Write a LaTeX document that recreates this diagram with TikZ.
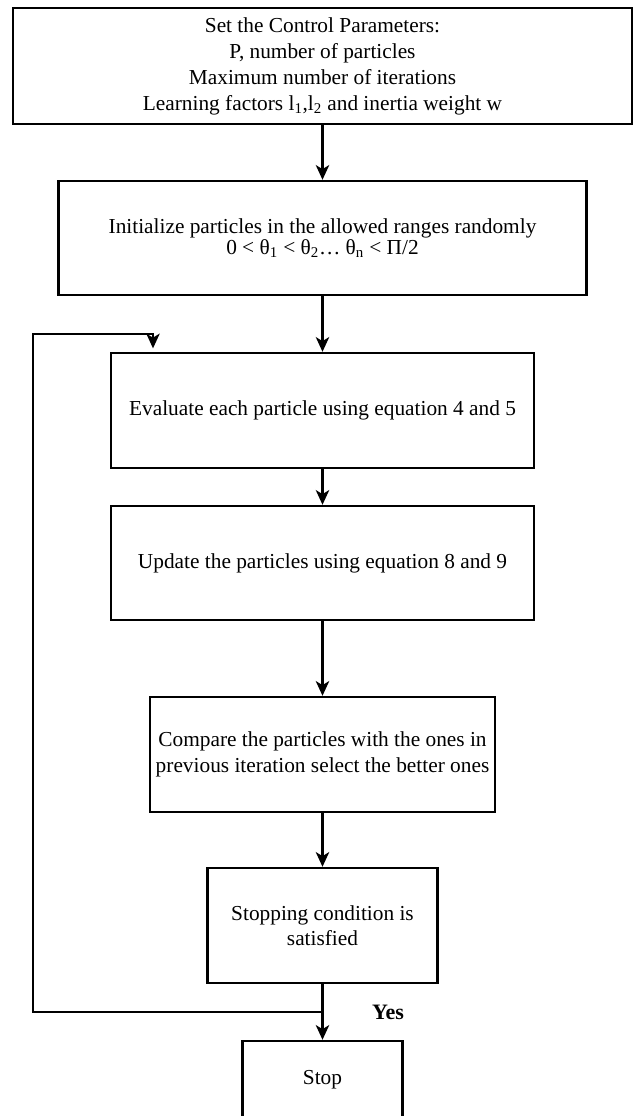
\documentclass[tikz,border=0pt]{standalone}
\usepackage{fontspec}
\setmainfont{Liberation Serif}
\usetikzlibrary{arrows.meta}

\begin{document}
\begin{tikzpicture}[>={Stealth[length=11pt,width=10pt,inset=3pt]}, x={(0.75pt,0pt)}, y={(0pt,-0.75pt)}, line width=1.8pt,
  box/.style={draw, align=center, inner sep=2pt, font=\fontsize{16}{19}\selectfont}]
\useasboundingbox (0,0) rectangle (633,1116);
\node[box, minimum width=464.25pt, minimum height=87pt, font=\fontsize{16}{19.5}\selectfont] (param) at (322.5,66) {Set the Control Parameters:\\ P, number of particles\\ Maximum number of iterations\\ Learning factors l\textsubscript{1},l\textsubscript{2} and inertia weight w};
\node[box, minimum width=396pt, minimum height=85.5pt, font=\fontsize{16}{14.5}\selectfont] (init) at (322.5,238) {Initialize particles in the allowed ranges randomly\\ 0 < θ\textsubscript{1} < θ\textsubscript{2}… θ\textsubscript{n} < Π/2};
\node[box, minimum width=317.25pt, minimum height=86.25pt] (eval) at (322.5,410.5) {Evaluate each particle using equation 4 and 5};
\node[box, minimum width=317.25pt, minimum height=85.5pt] (update) at (322.5,563) {Update the particles using equation 8 and 9};
\node[box, minimum width=258.75pt, minimum height=86.25pt] (compare) at (322.5,754.5) {Compare the particles with the ones in\\ previous iteration select the better ones};
\node[box, minimum width=172.5pt, minimum height=86.25pt] (cond) at (322.5,925.5) {Stopping condition is\\ satisfied};
\node[box, minimum width=120pt, minimum height=57.75pt] (stop) at (322.5,1079.5) {Stop};
\node[font=\bfseries\fontsize{16.5}{19}\selectfont] (yes) at (388,1012) {Yes};
\draw[->] (param) -- (init);
\draw[->] (init) -- (eval);
\draw[->] (eval) -- (update);
\draw[->] (update) -- (compare);
\draw[->] (compare) -- (cond);
\draw[->] (cond) -- (stop);
\coordinate (fork) at (322.5,1012);
\coordinate (loopup) at (33,334);
\coordinate (back) at (153,353);
\draw[->, shorten >=3.5pt] (fork) -| (loopup) -| (back);
\end{tikzpicture}
\end{document}
